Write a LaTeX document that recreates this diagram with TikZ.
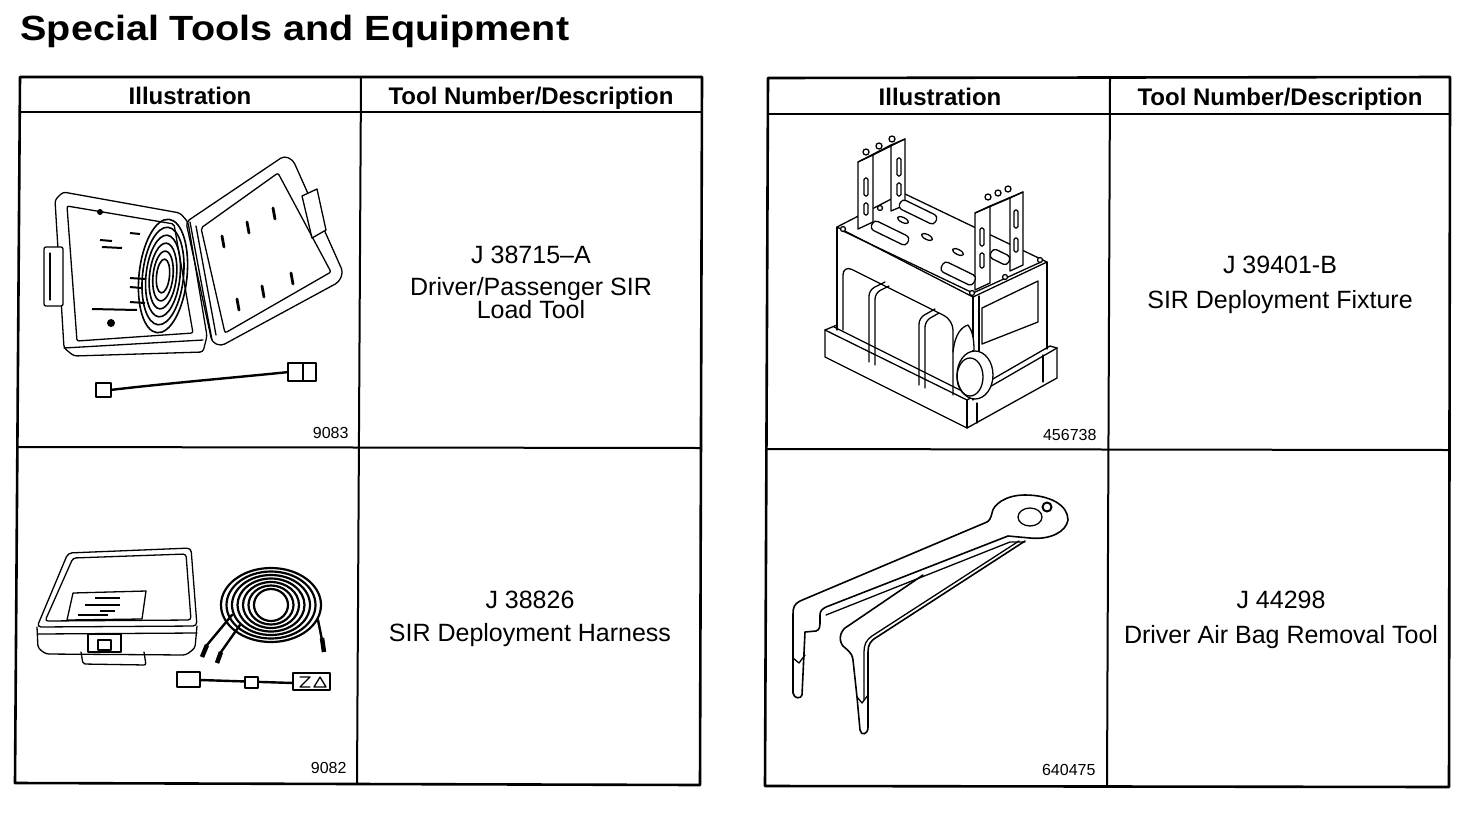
\documentclass[tikz,border=0pt]{standalone}
\usepackage{fontspec}
\setmainfont{Liberation Sans}
\usepackage{graphicx}

\begin{document}
\begin{tikzpicture}[x=1pt, y=-1pt,
	frame/.style={line width=2.6pt, line join=round},
	rule/.style={line width=2pt},
	head/.style={anchor=base, font=\bfseries\fontsize{24}{28}\selectfont},
	desc/.style={anchor=base, font=\fontsize{25}{28}\selectfont},
	fignum/.style={anchor=base east, font=\fontsize{16}{18}\selectfont},
	part/.style={draw, line width=1.3pt, line join=round, line cap=round},
	wire/.style={line width=2.4pt, line cap=round},
	slot/.style={line width=2.8pt, line cap=round}]
	\useasboundingbox (0,0) rectangle (1472,836);

	% Title
	\node [anchor=base west, font=\bfseries\fontsize{35}{40}\selectfont] (title) at (17,40) {\scalebox{1.13}[1]{Special Tools and Equipment}};

	% Tables
	\draw [frame] (20,77) -- (702,77) -- (700,785) -- (15,783) -- cycle;
	\draw [rule] (20,112) -- (702,112);
	\draw [rule] (17,447) -- (701,448);
	\draw [rule] (361,77) -- (357,784);

	\draw [frame] (768,78) -- (1450,77) -- (1449,787) -- (765,786) -- cycle;
	\draw [rule] (768,114) -- (1450,114);
	\draw [rule] (766,449) -- (1449,450);
	\draw [rule] (1110,78) -- (1107,786);

	% Headers
	\node [head] (illA) at (190,104) {Illustration};
	\node [head] (toolA) at (531,104) {Tool Number/Description};
	\node [head] (illB) at (940,105) {Illustration};
	\node [head] (toolB) at (1280,105) {Tool Number/Description};

	% Tool numbers and descriptions
	\node [desc] (numA) at (531,263) {J 38715–A};
	\node [desc] (descA) at (531,295) {Driver/Passenger SIR};
	\node [desc] (descA2) at (531,318) {Load Tool};
	\node [desc] (numC) at (530,608) {J 38826};
	\node [desc] (descC) at (530,641) {SIR Deployment Harness};
	\node [desc] (numB) at (1280,273) {J 39401-B};
	\node [desc] (descB) at (1280,308) {SIR Deployment Fixture};
	\node [desc] (numD) at (1281,608) {J 44298};
	\node [desc] (descD) at (1281,643) {Driver Air Bag Removal Tool};

	% Figure numbers
	\node [fignum] (figA) at (352,438) {9083};
	\node [fignum] (figC) at (350,773) {9082};
	\node [fignum] (figB) at (1100,440) {456738};
	\node [fignum] (figD) at (1099,775) {640475};

	% Load tool: open case
	\draw [part, rounded corners=3pt] (55,200) -- (63,192) -- (180,213) -- (188,222) -- (207,336) -- (203,352) -- (74,356) -- (64,348) -- cycle;
	\draw [part, rounded corners=2pt] (67,206) -- (174,224) -- (193,333) -- (77,341) -- cycle;
	\draw [part] (64,348) -- (203,340);
	\draw [part, rounded corners=2pt, fill=white] (44,247) rectangle (63,306);
	\draw [part] (50,253) -- (50,300);
	\foreach \r in {0,...,5}
		\draw [part, line width=1.6pt, rotate around={-6:(163,276)}] (163,276) ellipse ({24-3.5*\r} and {57-8*\r});
	\foreach \mx/\my/\ml in {130/233/10, 100/240/12, 102/247/20, 130/278/15, 130/287/12, 130/302/15, 92/309/45}
		\draw [line width=2pt] (\mx,\my) -- ++(\ml,1);
	\fill (100,212) circle (3);
	\fill (111,323) circle (4);
	\draw [part, rounded corners=4pt] (186,222) -- (284,156) -- (293,160) -- (343,272) -- (339,282) -- (221,346) -- (212,342) -- cycle;
	\draw [part, rounded corners=2pt] (201,228) -- (278,173) -- (331,272) -- (225,333) -- cycle;
	\foreach \sx/\sy in {222/236, 247/222, 273/208, 237/299, 262/286, 291/273}
		\draw [slot] (\sx,\sy) -- ++(2,11);
	\draw [part, fill=white] (302,196) -- (317,189) -- (326,230) -- (312,238) -- cycle;
	\draw [part] (190,222) -- (212,340);
	\draw [part] (196,226) -- (216,335);
	\draw [wire] (110,390) .. controls (170,383) and (230,378) .. (289,372);
	\draw [part, fill=white] (96,383) rectangle (111,397);
	\draw [part, fill=white] (288,363) rectangle (316,381);
	\draw [part] (303,363) -- (303,381);

	% Deployment harness: case, coil and adapter
	\draw [part, rounded corners=4pt] (68,553) -- (191,548) -- (197,626) -- (37,627) -- cycle;
	\draw [part, rounded corners=3pt] (73,558) -- (186,554) -- (191,620) -- (45,621) -- cycle;
	\draw [part, rounded corners=3pt] (37,627) -- (38,648) -- (46,654) -- (186,655) -- (195,648) -- (197,626);
	\draw [part] (38,634) -- (197,633);
	\draw [part] (73,593) -- (146,591) -- (142,619) -- (67,620) -- cycle;
	\foreach \mx/\my/\ml in {95/598/25, 85/605/35, 100/611/15, 78/615/30}
		\draw [line width=1.8pt] (\mx,\my) -- ++(\ml,0);
	\draw [part, fill=white] (88,634) rectangle (121,652);
	\draw [part, line width=2.2pt] (98,640) rectangle (111,650);
	\draw [part, rounded corners=2pt] (81,652) -- (83,664) -- (146,665) -- (144,652);
	\foreach \r in {0,...,6}
		\draw [line width=2.2pt] (271,605) ellipse ({50-5.5*\r} and {37-3.5*\r});
	\draw [wire] (232,615) -- (207,645);
	\draw [wire] (240,625) -- (221,652);
	\draw [line width=4.5pt] (207,645) -- (202,657);
	\draw [line width=4.5pt] (221,652) -- (217,663);
	\draw [wire] (318,620) -- (322,640);
	\draw [line width=4.5pt] (322,638) -- (324,652);
	\draw [wire] (200,680) -- (293,683);
	\draw [part, fill=white] (177,672) rectangle (200,687);
	\draw [part, fill=white] (245,677) rectangle (258,688);
	\draw [part, fill=white] (293,673) rectangle (330,690);
	\draw [part] (300,677) -- (310,677) -- (300,687) -- (310,687);
	\draw [part] (314,687) -- (320,677) -- (326,687) -- cycle;

	% Deployment fixture
	\draw [part] (825,330) -- (825,357) -- (967,428) -- (1057,378) -- (1057,348);
	\draw [part] (825,330) -- (967,400) -- (1057,348);
	\draw [part] (967,400) -- (967,428);
	\draw [part] (825,330) -- (837,325);
	\draw [part] (834,327) -- (962,391);
	\draw [part] (972,391) -- (1050,346) -- (1057,348);
	\draw [part] (1043,355) -- (1043,382);
	\draw [part] (977,403) -- (977,423);
	\draw [part] (837,227) -- (903,193) -- (1047,262) -- (973,297) -- cycle;
	\draw [part] (843,231) -- (973,293) -- (1041,262);
	\draw [part] (837,227) -- (837,330);
	\draw [part] (973,297) -- (973,400);
	\draw [part] (979,296) -- (979,355);
	\draw [part] (1047,262) -- (1047,349);
	\draw [part, rounded corners=10pt] (843,330) -- (843,265) -- (953,320) -- (953,395);
	\draw [part, rounded corners=6pt] (869,362) -- (869,290) -- (885,282);
	\draw [part, rounded corners=6pt] (875,365) -- (875,293) -- (889,286);
	\draw [part, rounded corners=6pt] (919,385) -- (919,318) -- (935,309);
	\draw [part, rounded corners=6pt] (925,388) -- (925,321) -- (939,313);
	\draw [part, fill=white] (953,352) .. controls (955,333) and (962,327) .. (968,325) .. controls (972,330) and (974,338) .. (974,350);
	\draw [part, fill=white] (975,375) ellipse (18 and 24);
	\draw [part] (970,377) ellipse (13 and 19);
	\draw [part] (982,308) -- (1038,281) -- (1038,322) -- (982,344) -- cycle;
	\foreach \hx/\hy in {843/229, 972/293, 1040/260, 880/208, 1005/277}
		\draw [part, fill=white] (\hx,\hy) circle (2.5);
	\foreach \hx/\hy in {927/237, 903/220, 958/252}
		\draw [part, rotate around={-26:(\hx,\hy)}] (\hx,\hy) ellipse (6 and 2.5);
	% left bracket
	\draw [part, fill=white] (891,145) -- (905,139) -- (905,205) -- (891,211) -- cycle;
	\draw [part, fill=white] (858,162) -- (873,155) -- (873,222) -- (858,229) -- cycle;
	\draw [part] (858,162) -- (891,145);
	\draw [part] (873,155) -- (905,139);
	\foreach \bx/\by in {866/152, 879/146, 892/139}
		\draw [part, fill=white] (\bx,\by) circle (3);
	\draw [part, rounded corners=1.5pt] (864,178) rectangle (868,196);
	\draw [part, rounded corners=1.5pt] (864,203) rectangle (868,215);
	\draw [part, rounded corners=1.5pt] (897,158) rectangle (901,176);
	\draw [part, rounded corners=1.5pt] (897,183) rectangle (901,196);
	\draw [part, rounded corners=4pt, fill=white, rotate around={-26:(890,233)}] (870,228) rectangle (910,238);
	\draw [part, rounded corners=4pt, fill=white, rotate around={-26:(918,212)}] (898,207) rectangle (938,217);
	% right bracket
	\draw [part, fill=white] (1010,198) -- (1023,192) -- (1023,265) -- (1010,271) -- cycle;
	\draw [part, fill=white] (975,213) -- (990,206) -- (990,283) -- (975,290) -- cycle;
	\draw [part] (975,213) -- (1010,198);
	\draw [part] (990,206) -- (1023,192);
	\foreach \bx/\by in {988/197, 998/193, 1008/189}
		\draw [part, fill=white] (\bx,\by) circle (3);
	\draw [part, rounded corners=1.5pt] (980,228) rectangle (984,246);
	\draw [part, rounded corners=1.5pt] (980,253) rectangle (984,268);
	\draw [part, rounded corners=1.5pt] (1014,210) rectangle (1018,228);
	\draw [part, rounded corners=1.5pt] (1014,238) rectangle (1018,252);
	\draw [part, rounded corners=4pt, fill=white, rotate around={-26:(958,274)}] (940,268) rectangle (976,279);
	\draw [part, rounded corners=4pt, fill=white, rotate around={-26:(1000,257)}] (990,252) rectangle (1010,262);

	% Driver air bag removal tool
	\draw [part, line width=1.6pt] (987,522) -- (800,601) .. controls (794,604) and (793,608) .. (793,614) -- (793,693) .. controls (794,699) and (801,699) .. (802,695) -- (805,632) -- (816,631) .. controls (820,630) and (820,626) .. (820,620) -- (820,615) .. controls (820,611) and (822,609) .. (826,607) -- (1008,536) -- (1030,538) .. controls (1050,540) and (1066,532) .. (1068,520) .. controls (1068,505) and (1050,495) .. (1025,495) .. controls (1005,495) and (993,505) .. (992,513) .. controls (991,518) and (989,521) .. (987,522);
	\draw [part] (826,615) -- (1010,542) -- (1025,542);
	\draw [part, line width=1.6pt] (1025,541) -- (877,637) .. controls (870,641) and (868,645) .. (868,652) -- (868,727) .. controls (868,735) and (861,736) .. (860,730) -- (857,697) -- (853,660) .. controls (852,652) and (847,650) .. (843,646) .. controls (838,640) and (840,630) .. (848,626) -- (923,575);
	\draw [part] (1019,541) -- (872,636) .. controls (866,640) and (864,645) .. (864,652) -- (864,700);
	\draw [part] (793,658) -- (799,663) -- (805,655);
	\draw [part] (857,697) -- (862,703) -- (868,695);
	\draw [part] (1030,517) ellipse (12 and 9);
	\draw [part, line width=2pt] (1047,507) circle (4.5);
\end{tikzpicture}
\end{document}
